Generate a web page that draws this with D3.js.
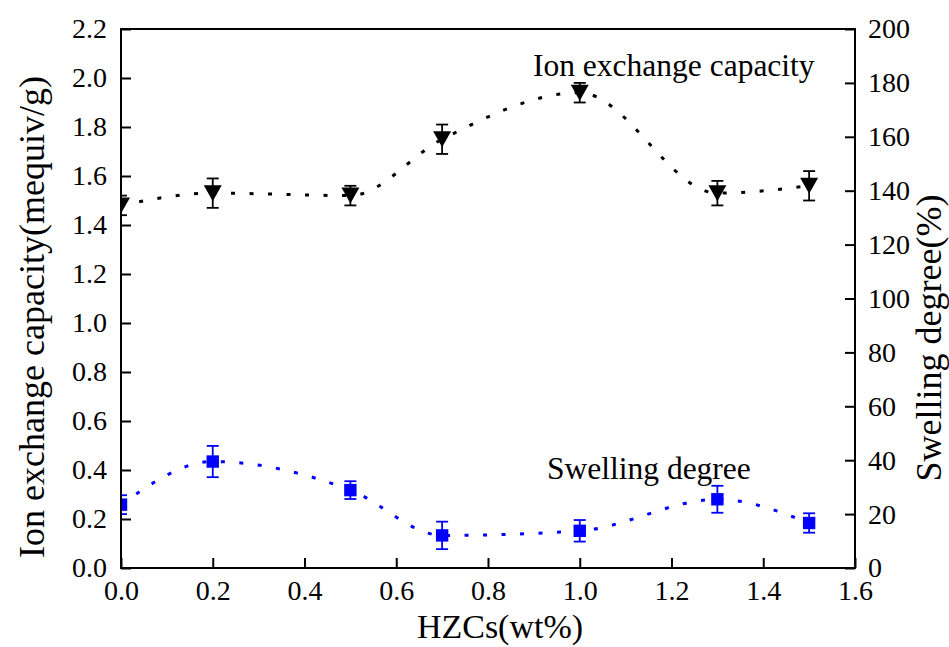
<!DOCTYPE html>
<html>
<head>
<meta charset="utf-8">
<script src="https://cdn.jsdelivr.net/npm/d3@7"></script>
<style>
  html, body { margin: 0; padding: 0; background: #fff; }
  svg text { font-family: "Liberation Serif", "Times New Roman", Tinos, "DejaVu Serif", serif; fill: #000; }
</style>
</head>
<body>
<svg id="chart" width="949" height="647"></svg>
<script>
// HZCs loading (wt%)
const loading = [0, 0.2, 0.5, 0.7, 1.0, 1.3, 1.5];
// Ion exchange capacity (mequiv/g) and its error
const iec = [1.48, 1.53, 1.52, 1.75, 1.94, 1.53, 1.56];
const iecErr = [0.04, 0.06, 0.04, 0.06, 0.04, 0.05, 0.06];
// Swelling degree (%) and its error
const swelling = [23.5, 39.5, 28.9, 12.1, 13.8, 25.5, 16.7];
const swellErr = [3.5, 5.8, 3.3, 5.1, 4.0, 5.0, 3.6];
// Tick labels
const xTicks = [0, 0.2, 0.4, 0.6, 0.8, 1.0, 1.2, 1.4, 1.6];
const leftTicks = [0, 0.2, 0.4, 0.6, 0.8, 1.0, 1.2, 1.4, 1.6, 1.8, 2.0, 2.2];
const rightTicks = [0, 20, 40, 60, 80, 100, 120, 140, 160, 180, 200];

const FONT = "'Liberation Serif', 'Times New Roman', Tinos, 'DejaVu Serif', serif";

const svg = d3.select("#chart");
const L = 121, R = 855, T = 29, B = 568;

const x = d3.scaleLinear().domain([0, 1.6]).range([L, R]);
const yL = d3.scaleLinear().domain([0, 2.2]).range([B, T]);
const yR = d3.scaleLinear().domain([0, 200]).range([B, T]);

svg.append("defs").append("clipPath").attr("id", "plotClip")
  .append("rect").attr("x", L).attr("y", T).attr("width", R - L).attr("height", B - T);

const plot = svg.append("g").attr("clip-path", "url(#plotClip)");

function drawSeries(vals, errs, yScale, color, shape) {
  const pts = loading.map((d, i) => ({ x: d, y: vals[i], e: errs[i] }));
  const line = d3.line().x(d => x(d.x)).y(d => yScale(d.y)).curve(d3.curveMonotoneX);
  plot.append("path").datum(pts).attr("d", line)
    .attr("fill", "none").attr("stroke", color).attr("stroke-width", 3)
    .attr("stroke-dasharray", "4 14.5");

  const g = plot.append("g").attr("stroke", color).attr("stroke-width", 1.8);
  pts.forEach(p => {
    const cx = x(p.x), y1 = yScale(p.y + p.e), y2 = yScale(p.y - p.e);
    g.append("line").attr("x1", cx).attr("x2", cx).attr("y1", y1).attr("y2", y2);
    g.append("line").attr("x1", cx - 6).attr("x2", cx + 6).attr("y1", y1).attr("y2", y1);
    g.append("line").attr("x1", cx - 6).attr("x2", cx + 6).attr("y1", y2).attr("y2", y2);
  });

  pts.forEach(p => {
    const cx = x(p.x), cy = yScale(p.y);
    if (shape === "tri") {
      const w = 9, h = 8;
      plot.append("path")
        .attr("d", `M${cx - w},${cy - h}L${cx + w},${cy - h}L${cx},${cy + h}Z`)
        .attr("fill", color);
    } else {
      const s = 6.2;
      plot.append("rect").attr("x", cx - s).attr("y", cy - s)
        .attr("width", 2 * s).attr("height", 2 * s).attr("fill", color);
    }
  });
}

drawSeries(iec, iecErr, yL, "#000", "tri");
drawSeries(swelling, swellErr, yR, "#0000ff", "sq");

// Frame
svg.append("rect").attr("x", L).attr("y", T).attr("width", R - L).attr("height", B - T)
  .attr("fill", "none").attr("stroke", "#000").attr("stroke-width", 2);

// Axes with inward ticks
const fmt1 = d3.format(".1f");
const xAxis = d3.axisBottom(x).tickValues(xTicks).tickFormat(fmt1).tickSizeInner(-10).tickSizeOuter(0);
const yAxisL = d3.axisLeft(yL).tickValues(leftTicks).tickFormat(fmt1).tickSizeInner(-10).tickSizeOuter(0).tickPadding(14);
const yAxisR = d3.axisRight(yR).tickValues(rightTicks).tickFormat(d3.format("d")).tickSizeInner(-10).tickSizeOuter(0).tickPadding(13);

function styleAxis(g) {
  g.attr("font-family", null).attr("font-size", null);
  g.select(".domain").remove();
  g.selectAll(".tick line").attr("stroke", "#000").attr("stroke-width", 2);
  g.selectAll(".tick text").attr("font-size", 28).attr("fill", "#000").style("font-family", FONT);
}

svg.append("g").attr("transform", `translate(0,${B})`).call(xAxis).call(styleAxis)
  .selectAll(".tick text").attr("dy", "0.71em").attr("y", 12);
svg.append("g").attr("transform", `translate(${L},0)`).call(yAxisL).call(styleAxis);
svg.append("g").attr("transform", `translate(${R},0)`).call(yAxisR).call(styleAxis);

// Axis titles
svg.append("text").attr("x", 500).attr("y", 638).attr("text-anchor", "middle")
  .attr("font-size", 34).text("HZCs(wt%)");
svg.append("text").attr("transform", "translate(44,317) rotate(-90)")
  .attr("text-anchor", "middle").attr("font-size", 36).text("Ion exchange capacity(mequiv/g)");
svg.append("text").attr("transform", "translate(941,338) rotate(-90)")
  .attr("text-anchor", "middle").attr("font-size", 36).text("Swelling degree(%)");

// Series annotations
svg.append("text").attr("x", 533).attr("y", 76).attr("font-size", 31.5).text("Ion exchange capacity");
svg.append("text").attr("x", 547).attr("y", 479).attr("font-size", 31.5).text("Swelling degree");
</script>
</body>
</html>
